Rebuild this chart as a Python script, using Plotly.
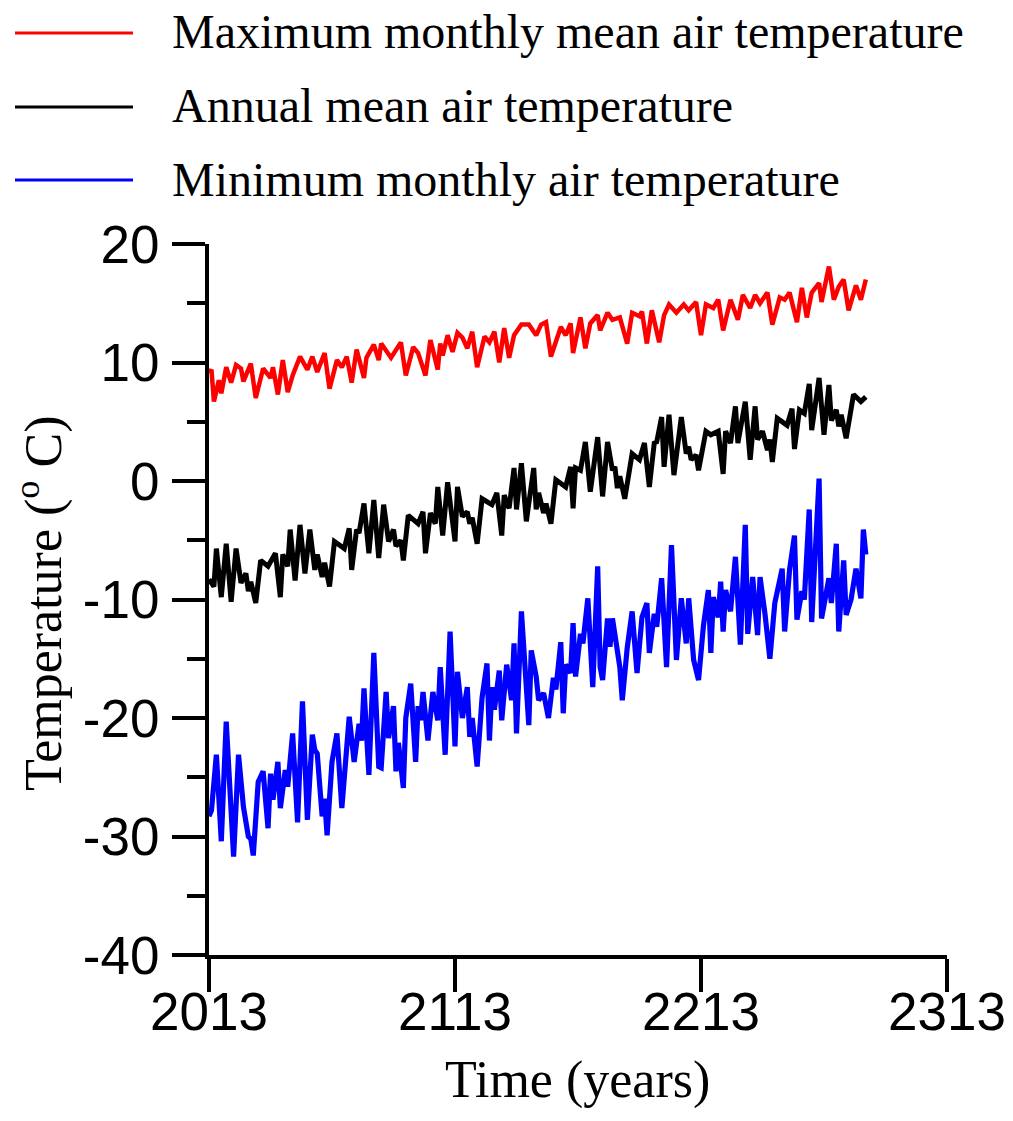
import plotly.graph_objects as go

# ---------------- data ----------------
max_years = [2013, 2014, 2015, 2017, 2018, 2020, 2022, 2024, 2026, 2027, 2030, 2032, 2035, 2038, 2039,
             2041, 2043, 2045, 2047, 2050, 2053, 2055, 2057, 2060, 2062, 2065, 2067, 2069, 2071, 2073,
             2076, 2077, 2080, 2082, 2083, 2087, 2091, 2093, 2096, 2098, 2101, 2103, 2106, 2107, 2108,
             2110, 2112, 2114, 2116, 2118, 2120, 2122, 2125, 2127, 2129, 2131, 2133, 2135, 2137, 2140,
             2143, 2146, 2148, 2150, 2152, 2156, 2158, 2160, 2161, 2164, 2166, 2168, 2171, 2172, 2175,
             2177, 2180, 2183, 2185, 2188, 2189, 2191, 2193, 2196, 2198, 2200, 2203, 2206, 2208, 2211,
             2213, 2215, 2218, 2220, 2222, 2225, 2228, 2230, 2233, 2235, 2237, 2240, 2242, 2245, 2247,
             2249, 2252, 2254, 2256, 2258, 2261, 2262, 2265, 2267, 2269, 2271, 2273, 2276, 2278, 2280]
max_temp = [9.1, 9.4, 6.7, 8.5, 7.4, 9.6, 8.3, 9.8, 9.5, 8.4, 9.9, 7.0, 9.5, 8.7, 9.6,
            7.3, 10.2, 7.5, 8.9, 10.5, 9.4, 10.5, 9.2, 10.8, 7.8, 10.2, 9.6, 10.5, 8.3, 11.1,
            8.7, 10.4, 11.5, 10.2, 11.6, 10.4, 11.7, 8.9, 11.3, 10.8, 8.9, 11.9, 9.4, 11.6, 10.6,
            12.3, 10.9, 12.5, 12.1, 11.2, 12.6, 9.6, 12.2, 11.7, 12.6, 10.0, 12.9, 10.4, 12.3, 13.2,
            13.2, 12.3, 13.2, 13.4, 10.5, 13.0, 12.3, 13.3, 10.8, 13.8, 11.2, 13.3, 14.0, 12.7, 14.2,
            13.6, 13.8, 11.6, 14.2, 13.9, 14.3, 11.6, 14.4, 11.7, 14.0, 14.9, 14.2, 14.9, 14.4, 15.1,
            12.3, 14.9, 14.6, 15.3, 12.7, 15.3, 13.6, 15.7, 14.6, 15.7, 15.0, 15.9, 13.2, 15.5, 15.3,
            15.9, 13.4, 16.3, 13.8, 15.9, 16.7, 15.1, 18.1, 15.3, 16.4, 17.0, 14.4, 16.5, 15.3, 17.0]

mean_years = [2013, 2015, 2016, 2018, 2020, 2022, 2024, 2026, 2028, 2029, 2030, 2032, 2034, 2037, 2040,
              2042, 2043, 2045, 2046, 2048, 2050, 2052, 2054, 2056, 2057, 2059, 2060, 2062, 2064, 2068,
              2070, 2071, 2073, 2074, 2076, 2078, 2080, 2082, 2084, 2086, 2088, 2089, 2091, 2092, 2094,
              2098, 2100, 2101, 2103, 2105, 2106, 2108, 2110, 2113, 2114, 2116, 2118, 2119, 2120, 2122,
              2124, 2128, 2130, 2132, 2133, 2135, 2137, 2138, 2140, 2142, 2145, 2146, 2147, 2149, 2150,
              2152, 2154, 2158, 2160, 2161, 2162, 2164, 2166, 2168, 2171, 2173, 2175, 2177, 2178, 2179,
              2180, 2182, 2185, 2188, 2190, 2192, 2194, 2195, 2197, 2198, 2200, 2202, 2205, 2207, 2208,
              2209, 2211, 2212, 2215, 2217, 2220, 2222, 2223, 2225, 2227, 2228, 2231, 2233, 2235, 2236,
              2238, 2240, 2241, 2242, 2244, 2248, 2250, 2251, 2253, 2255, 2257, 2258, 2261, 2263, 2265,
              2266, 2268, 2269, 2270, 2272, 2275, 2278, 2280]
mean_temp = [-8.3, -8.9, -5.7, -9.8, -5.3, -10.2, -5.7, -8.6, -7.8, -9.3, -8.5, -10.3, -6.7, -7.2, -6.1,
             -9.8, -6.2, -7.2, -4.1, -8.4, -3.7, -7.8, -4.1, -7.5, -6.2, -8.1, -6.9, -8.9, -5.1, -5.7,
             -4.0, -7.5, -4.1, -4.4, -1.9, -6.1, -1.6, -6.5, -2.0, -5.1, -4.1, -5.5, -5.0, -6.7, -2.9,
             -3.6, -2.6, -6.1, -2.7, -3.6, -0.5, -4.6, -0.1, -5.1, -0.5, -3.0, -2.6, -3.6, -3.1, -5.3,
             -1.5, -2.0, -1.0, -4.6, -1.2, -2.3, 1.1, -2.4, 1.5, -3.4, 1.1, -2.4, -1.0, -2.7, -1.9,
             -3.6, 0.1, -0.5, 1.2, -2.3, 1.1, 0.9, 3.3, -0.9, 3.7, -1.3, 3.3, 0.9, 1.2, -0.6,
             0.4, -1.5, 2.3, 1.8, 3.2, -0.5, 3.2, 3.3, 5.4, 1.2, 5.6, 0.5, 5.4, 2.3, 2.9,
             1.8, 2.2, 0.9, 4.2, 3.9, 4.2, 0.6, 4.2, 3.2, 6.3, 3.2, 6.7, 1.8, 6.3, 3.5,
             4.2, 2.6, 3.5, 1.6, 5.3, 4.7, 6.1, 2.7, 6.0, 5.7, 8.2, 4.3, 8.7, 3.9, 8.1,
             5.1, 6.0, 4.6, 5.6, 3.6, 7.3, 6.7, 7.1]

min_years = [2013, 2014, 2016, 2018, 2020, 2023, 2025, 2026, 2027, 2029, 2030, 2031, 2033, 2035, 2037,
             2038, 2039, 2041, 2042, 2044, 2045, 2047, 2049, 2051, 2053, 2055, 2056, 2057, 2059, 2060,
             2061, 2063, 2065, 2067, 2069, 2070, 2072, 2074, 2075, 2076, 2078, 2080, 2082, 2083, 2085,
             2086, 2088, 2089, 2090, 2092, 2093, 2095, 2097, 2098, 2099, 2100, 2102, 2104, 2106, 2107,
             2109, 2111, 2113, 2114, 2116, 2118, 2119, 2120, 2122, 2124, 2126, 2127, 2128, 2129, 2131,
             2132, 2134, 2136, 2137, 2138, 2140, 2143, 2144, 2146, 2147, 2149, 2151, 2153, 2154, 2156,
             2157, 2158, 2160, 2161, 2162, 2164, 2165, 2167, 2169, 2171, 2172, 2173, 2175, 2176, 2177,
             2179, 2180, 2181, 2183, 2185, 2187, 2189, 2191, 2192, 2194, 2195, 2197, 2199, 2201, 2203,
             2205, 2207, 2208, 2210, 2212, 2214, 2216, 2217, 2218, 2220, 2221, 2222, 2223, 2225, 2227,
             2229, 2231, 2232, 2234, 2236, 2237, 2239, 2241, 2243, 2246, 2247, 2249, 2251, 2252, 2254,
             2255, 2257, 2258, 2261, 2262, 2265, 2266, 2268, 2269, 2271, 2272, 2274, 2276, 2278, 2279,
             2280]
min_temp = [-28.3, -27.8, -23.1, -30.4, -20.3, -31.7, -23.1, -25.2, -27.5, -30.0, -30.2, -31.6, -25.4, -24.5, -29.3,
            -24.7, -26.9, -23.7, -27.6, -24.4, -25.8, -21.3, -28.8, -18.6, -28.6, -21.4, -22.7, -23.0, -28.3, -26.8,
            -29.9, -23.7, -21.3, -27.6, -22.8, -19.9, -23.7, -20.5, -21.9, -17.5, -24.8, -14.5, -24.1, -24.2, -17.8,
            -21.7, -19.0, -24.5, -22.1, -25.9, -20.0, -17.1, -23.7, -19.0, -20.2, -17.8, -21.9, -17.8, -20.2, -15.7,
            -23.1, -12.7, -22.4, -16.1, -20.0, -17.4, -21.6, -20.0, -24.1, -18.3, -15.4, -21.9, -17.4, -19.3, -16.0,
            -20.2, -15.5, -18.5, -13.7, -21.3, -11.0, -20.6, -14.3, -16.5, -18.5, -17.9, -20.0, -16.6, -17.6, -13.6,
            -19.6, -15.5, -16.2, -12.0, -16.5, -12.9, -13.7, -9.9, -17.4, -7.2, -15.7, -16.8, -11.6, -14.0, -11.6,
            -14.3, -15.7, -18.5, -14.1, -11.0, -16.2, -11.5, -10.3, -14.5, -11.2, -12.3, -8.2, -15.7, -5.4, -15.1,
            -9.9, -13.7, -9.9, -15.1, -16.8, -12.2, -9.2, -14.5, -9.8, -11.5, -8.5, -12.7, -9.2, -11.0, -6.4,
            -13.8, -3.7, -12.9, -8.1, -13.0, -8.1, -11.2, -15.0, -10.3, -7.4, -12.7, -7.5, -4.6, -11.7, -9.3,
            -10.0, -2.4, -11.9, 0.2, -11.6, -8.2, -10.3, -5.3, -12.7, -6.7, -11.3, -10.0, -7.4, -9.9, -4.1,
            -6.2]

series_names = ["Maximum monthly mean air temperature",
                "Annual mean air temperature",
                "Minimum monthly air temperature"]
series_colors = ["#ff0000", "#000000", "#0000ff"]

x_ticks = [2013, 2113, 2213, 2313]
x_ticklabels = ["2013", "2113", "2213", "2313"]
y_ticks = [-40, -30, -20, -10, 0, 10, 20]
y_ticklabels = ["-40", "-30", "-20", "-10", "0", "10", "20"]
y_minor = [-35, -25, -15, -5, 5, 15]

# ---------------- layout geometry ----------------
W, H = 1013, 1121
L, R, T, B = 209, 947, 244, 955


def px(xp):
    return (xp - L) / (R - L)


def py(yp):
    return (B - yp) / (B - T)


fig = go.Figure()
for yrs, vals, name, col, lw in zip([max_years, mean_years, min_years],
                                    [max_temp, mean_temp, min_temp],
                                    series_names, series_colors, [4.5, 5.0, 5.2]):
    fig.add_trace(go.Scatter(x=yrs, y=vals, mode="lines", name=name,
                             line=dict(color=col, width=lw), showlegend=False))

SANS = "Liberation Sans, Arial, sans-serif"
SERIF = "Liberation Serif, Times New Roman, serif"

fig.update_layout(
    width=W, height=H,
    margin=dict(l=L, r=W - R, t=T, b=H - B, pad=0, autoexpand=False),
    paper_bgcolor="white", plot_bgcolor="white",
    showlegend=False,
    xaxis=dict(range=[2013, 2313], tickvals=x_ticks, ticktext=x_ticklabels,
               ticks="outside", ticklen=33, tickwidth=4, tickcolor="black",
               showline=True, linewidth=4, linecolor="black",
               showgrid=False, zeroline=False, automargin=False,
               tickfont=dict(family=SANS, size=53, color="black"),
               ticklabelstandoff=-26),
    yaxis=dict(range=[-40, 20], tickvals=y_ticks, ticktext=y_ticklabels,
               ticks="outside", ticklen=33, tickwidth=4, tickcolor="black",
               showline=True, linewidth=4, linecolor="black",
               showgrid=False, zeroline=False, automargin=False,
               tickfont=dict(family=SANS, size=53, color="black"),
               ticklabelstandoff=2,
               minor=dict(tickvals=y_minor, ticks="outside", ticklen=18,
                          tickwidth=4, tickcolor="black", showgrid=False)),
)

annotations = [
    dict(text="Time (years)", x=px(577), y=py(1080), xref="paper", yref="paper",
         xanchor="center", yanchor="middle", showarrow=False,
         font=dict(family=SERIF, size=52, color="black")),
    dict(text="Temperature (<sup>o</sup> C)", x=px(40), y=py(603), xref="paper", yref="paper",
         xanchor="center", yanchor="middle", showarrow=False, textangle=-90,
         font=dict(family=SERIF, size=52, color="black")),
]
shapes = []
legend_y = [33, 107, 180]
for name, col, ly in zip(series_names, series_colors, legend_y):
    shapes.append(dict(type="line", xref="paper", yref="paper",
                       x0=px(15), x1=px(133), y0=py(ly), y1=py(ly),
                       line=dict(color=col, width=3)))
    annotations.append(dict(text=name, x=px(170), y=py(ly - 1), xref="paper", yref="paper",
                            xanchor="left", yanchor="middle", showarrow=False,
                            font=dict(family=SERIF, size=48, color="black")))
fig.update_layout(annotations=annotations, shapes=shapes)

fig.write_html("out.html")
